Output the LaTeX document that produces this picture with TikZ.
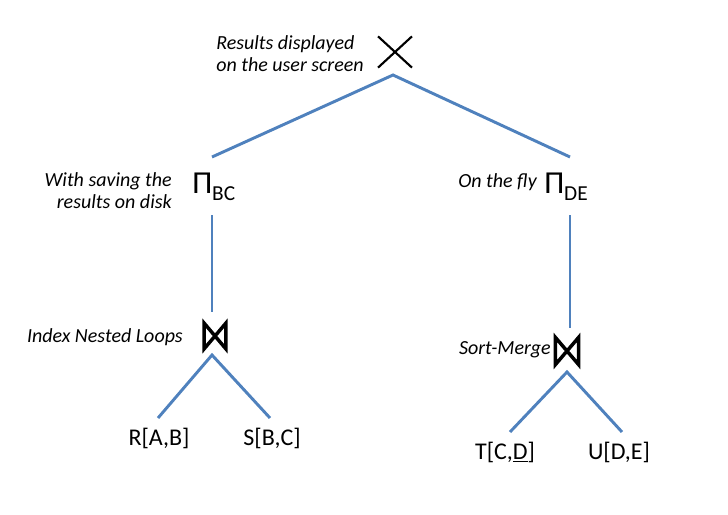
\documentclass[tikz,border=0pt]{standalone}
\usepackage{fontspec}
\setmainfont{Carlito}
\begin{document}
\begin{tikzpicture}[x=0.75pt,y=-0.75pt,
  edge/.style={draw={rgb,255:red,79;green,129;blue,189},line width=2.2pt},
  lbl/.style={inner sep=0pt,font=\fontsize{15}{16.5}\selectfont\itshape},
  rel/.style={inner sep=0pt,font=\fontsize{18}{20}\selectfont},
  pisym/.style={inner sep=0pt,font=\fontsize{24}{26}\selectfont},
  bowtiestyle/.style={draw=black,line width=2.6pt,line join=miter}]
\path[use as bounding box] (0,0) rectangle (728,514);
% top cross
\node[inner sep=0pt,minimum width=25pt,minimum height=23pt] (cross) at (395,52) {};
\draw[line width=1.6pt] (cross.north west) -- (cross.south east) (cross.north east) -- (cross.south west);
\node[lbl,align=left,anchor=west] (txtop) at (216,54) {Results displayed\\on the user screen};
% projections
\node[pisym,anchor=west] (pibc) at (192,187) {Π\raisebox{-0.45ex}{\fontsize{16}{18}\selectfont BC}};
\node[pisym,anchor=west] (pide) at (544,187) {Π\raisebox{-0.45ex}{\fontsize{16}{18}\selectfont DE}};
\node[lbl,align=right,anchor=east] (txbc) at (172,191) {With saving the\\results on disk};
\node[lbl,anchor=west] (txde) at (458,182) {On the fly};
% joins
\node[inner sep=0pt,minimum width=16pt,minimum height=19pt] (j1) at (215,336) {};
\node[inner sep=0pt,minimum width=17pt,minimum height=20pt] (j2) at (567,351) {};
\foreach \j in {j1,j2}{
  \draw[bowtiestyle] (\j.north west) -- (\j.south west) -- (\j.north east) -- (\j.south east) -- cycle;
}
\node[lbl,anchor=east] (txj1) at (183,337) {Index Nested Loops};
\node[lbl,anchor=east] (txj2) at (551,350) {Sort-Merge};
% relations
\node[rel] (r) at (159,438) {R[A,B]};
\node[rel] (s) at (272,438) {S[B,C]};
\node[rel] (t) at (505,452) {T[C,\underline{D}]};
\node[rel] (u) at (619,452) {U[D,E]};
% connector points
\coordinate (ctop) at (393,75);
\coordinate (cbc) at (212,157);
\coordinate (cde) at (570,157);
\coordinate (cbcb) at (212,215);
\coordinate (cj1t) at (212,312);
\coordinate (cj1b) at (212,355);
\coordinate (cr) at (158,418);
\coordinate (cs) at (270,418);
\coordinate (cdeb) at (570,215);
\coordinate (cj2t) at (570,328);
\coordinate (cj2b) at (567,372);
\coordinate (ct) at (510,432);
\coordinate (cu) at (622,432);
\draw[edge] (cbc) -- (ctop) -- (cde);
\draw[edge] (cbcb) -- (cj1t);
\draw[edge] (cdeb) -- (cj2t);
\draw[edge] (cr) -- (cj1b) -- (cs);
\draw[edge] (ct) -- (cj2b) -- (cu);
\end{tikzpicture}
\end{document}
